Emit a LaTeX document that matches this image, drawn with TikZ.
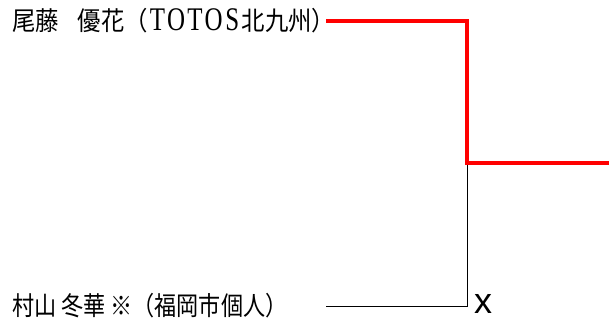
\documentclass[tikz,border=0pt]{standalone}
\usepackage{fontspec}
\setmainfont{Liberation Serif}
\newfontfamily\cjk{Noto Sans CJK JP}
\newfontfamily\arialx{Liberation Sans}
% Latin letter in a fixed-width cell (inside the 0.9 outer scaling)
\newcommand{\wl}[1]{\makebox[20.8pt]{\rmfamily\fontsize{33}{33}\selectfont\scalebox{0.84}[1]{#1}}}
\begin{document}
\begin{tikzpicture}[x=1pt,y=-1pt,
  namelabel/.style={anchor=west,inner sep=0pt,font=\cjk\fontsize{26}{28}\selectfont},
  winline/.style={draw=red,line width=4.8pt,line join=miter},
  loseline/.style={draw=black,line width=1pt}]
\useasboundingbox (0,0) rectangle (613,325);
\node[namelabel] (p1) at (12,21) {\scalebox{0.9}[1]{尾藤\hspace{21pt}優花（\wl{T}\wl{O}\wl{T}\wl{O}\wl{S}北九州）}};
\node[namelabel] (p2) at (12,306) {\scalebox{0.85}[1]{村山 冬華 ※（福岡市個人）}};
\coordinate (a1) at (326,21);
\coordinate (a2) at (326,306);
\coordinate (j) at (467,163);
\coordinate (w) at (609,163);
\draw[loseline] (a2) -| (j);
\draw[winline] (a1) -| (j) -- (w);
\node[inner sep=0pt,font=\arialx\fontsize{36}{36}\selectfont] (mk) at (483,304) {x};
\end{tikzpicture}
\end{document}
